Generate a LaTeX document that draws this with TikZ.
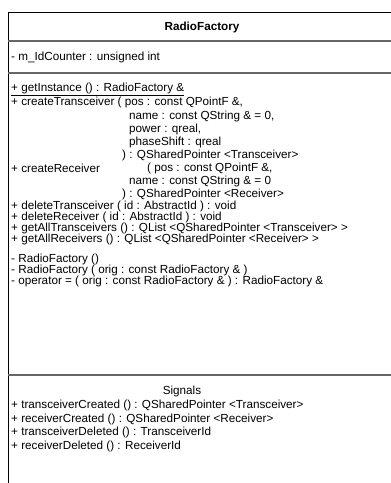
\documentclass[tikz,border=0pt]{standalone}
\usepackage{fontspec}
\setmainfont{Liberation Sans}
\begin{document}
\begin{tikzpicture}[x=1pt,y=-1pt,
  member/.style={anchor=west,inner sep=0pt,font=\fontsize{11.7}{13}\selectfont},
  heading/.style={anchor=center,inner sep=0pt,font=\fontsize{11.7}{13}\selectfont},
  frame/.style={line width=1pt,draw=black},
  divider/.style={line width=1.2pt,draw=black!60}]
\useasboundingbox (0,0) rectangle (391,483);
\fill[white] (0,0) rectangle (391,483);

% class box, running past the right and bottom edges
\coordinate (tl) at (8,12);
\coordinate (tr) at (400,12);
\coordinate (bl) at (8,490);
\draw[frame] (bl) -- (tl) -- (tr);
\coordinate (d1l) at (8,41);  \coordinate (d1r) at (400,41);
\coordinate (d2l) at (8,73);  \coordinate (d2r) at (400,73);
\coordinate (d3l) at (8,375); \coordinate (d3r) at (400,375);
\draw[divider] (d1l) -- (d1r);
\draw[divider] (d2l) -- (d2r);
\draw[divider] (d3l) -- (d3r);

% class name
\node[heading,font=\fontsize{11.7}{13}\selectfont\bfseries] (name) at (202,27) {RadioFactory};

% attributes
\node[member] (attr) at (11,57) {- m\_IdCounter : unsigned int};

% operations
\node[member] (op1) at (11,89) {\underline{+ getInstance () : RadioFactory \&}};
\node[member] (op2) at (11,102) {+ createTransceiver ( pos : const QPointF \&,};
\node[member] (op2a) at (129,116) {name : const QString \& = 0,};
\node[member] (op2b) at (129,129) {power : qreal,};
\node[member] (op2c) at (129,142) {phaseShift : qreal};
\node[member] (op2d) at (122,155) {) : QSharedPointer <Transceiver>};
\node[member] (op3) at (11,168) {+ createReceiver};
\node[member] (op3x) at (147,168) {( pos : const QPointF \&,};
\node[member] (op3a) at (129,181) {name : const QString \& = 0};
\node[member] (op3b) at (122,194) {) : QSharedPointer <Receiver>};
\node[member] (op4) at (11,206) {+ deleteTransceiver ( id : AbstractId ) : void};
\node[member] (op5) at (11,217) {+ deleteReceiver ( id : AbstractId ) : void};
\node[member] (op6) at (11,228) {+ getAllTransceivers () : QList <QSharedPointer <Transceiver> >};
\node[member] (op7) at (11,239) {+ getAllReceivers () : QList <QSharedPointer <Receiver> >};
\node[member] (op8) at (11,259) {- RadioFactory ()};
\node[member] (op9) at (11,270) {- RadioFactory ( orig : const RadioFactory \& )};
\node[member] (op10) at (11,281) {- operator = ( orig : const RadioFactory \& ) : RadioFactory \&};

% signals
\node[heading] (sig) at (182,391) {Signals};
\node[member] (s1) at (11,405) {+ transceiverCreated () : QSharedPointer <Transceiver>};
\node[member] (s2) at (11,419) {+ receiverCreated () : QSharedPointer <Receiver>};
\node[member] (s3) at (11,432) {+ transceiverDeleted () : TransceiverId};
\node[member] (s4) at (11,446) {+ receiverDeleted () : ReceiverId};
\end{tikzpicture}
\end{document}
